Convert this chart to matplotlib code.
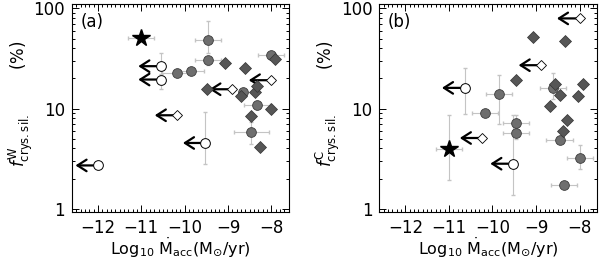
import numpy as np
import matplotlib.pyplot as plt
from matplotlib.ticker import MultipleLocator, LogLocator, NullFormatter, FixedLocator

# panel (a): warm component
w_circ_x = [-10.17, -9.85, -9.45, -9.45, -8.65, -8.46, -8.32, -8.0]
w_circ_y = [22.4, 23.6, 48.2, 30.4, 14.7, 5.85, 10.8, 34.1]
w_circ_ylo = [22.4, 23.6, 36.0, 27.0, 14.7, 4.4, 9.8, 34.1]
w_circ_yhi = [22.4, 23.6, 74.7, 33.0, 14.7, 7.4, 12.0, 34.1]
w_circ_xerr = [0.35, 0.3, 0.3, 0.3, 0.0, 0.4, 0.3, 0.3]

w_diam_x = [-9.07, -9.49, -8.6, -8.71, -8.38, -8.33, -8.0, -8.46, -8.27, -7.92]
w_diam_y = [28.8, 15.6, 25.7, 13.4, 14.7, 16.9, 10.0, 8.45, 4.14, 31.1]

w_ulc_x = [-10.55, -10.55, -9.52, -12.0]
w_ulc_y = [26.5, 19.5, 4.54, 2.71]
w_ulc_ylo = [21.5, 15.8, 2.82, 2.71]
w_ulc_yhi = [35.5, 22.0, 9.26, 2.71]

w_uld_x = [-10.17, -8.91, -8.0]
w_uld_y = [8.58, 15.6, 19.2]

w_star = (-11.0, 50.9, 0.3, 50.9, 50.9)

# panel (b): cold component
c_circ_x = [-10.18, -9.84, -9.46, -9.46, -8.62, -8.46, -8.35, -8.0]
c_circ_y = [9.05, 14.1, 7.2, 5.75, 16.1, 4.83, 1.74, 3.21]
c_circ_ylo = [9.05, 7.1, 6.6, 5.0, 12.5, 4.83, 1.74, 2.5]
c_circ_yhi = [9.05, 21.5, 8.6, 6.3, 22.4, 4.83, 1.74, 4.3]
c_circ_xerr = [0.3, 0.3, 0.3, 0.3, 0.3, 0.3, 0.3, 0.3]

c_diam_x = [-9.07, -8.34, -9.47, -8.56, -8.44, -8.68, -7.93, -8.03, -8.28, -8.39]
c_diam_y = [51.3, 47.1, 19.5, 17.8, 13.6, 10.6, 17.4, 13.4, 7.64, 5.93]

c_ulc_x = [-10.64, -9.53]
c_ulc_y = [16.1, 2.82]
c_ulc_ylo = [8.9, 1.36]
c_ulc_yhi = [25.5, 8.6]

c_uld_x = [-10.23, -8.88, -8.0]
c_uld_y = [5.09, 27.1, 79.4]

c_star = (-11.0, 3.95, 0.3, 1.92, 8.7)

ARROW = 0.52
ECOL = '#c4c4c4'


def panel(ax, cx, cy, cylo, cyhi, cxerr, dx, dy, ux, uy, uylo, uyhi,
          dlx, dly, star, tag, sup):
    cy = np.array(cy); ux = np.array(ux); uy = np.array(uy)
    # error bars
    ax.errorbar(cx, cy, xerr=cxerr,
                yerr=[cy - np.array(cylo), np.array(cyhi) - cy],
                fmt='none', ecolor=ECOL, elinewidth=0.8, capsize=1.5, zorder=1)
    ax.errorbar(ux, uy, yerr=[uy - np.array(uylo), np.array(uyhi) - uy],
                fmt='none', ecolor=ECOL, elinewidth=0.8, capsize=1.5, zorder=1)
    sx, sy, sxe, sylo, syhi = star
    ax.errorbar([sx], [sy], xerr=[sxe], yerr=[[sy - sylo], [syhi - sy]],
                fmt='none', ecolor=ECOL, elinewidth=0.8, capsize=1.5, zorder=1)

    # upper limit arrows
    for x, y in list(zip(ux, uy)) + list(zip(dlx, dly)):
        ax.annotate('', xy=(x - ARROW, y), xytext=(x, y),
                    arrowprops=dict(arrowstyle='->,head_length=0.5,head_width=0.32',
                                    lw=1.6, color='k', shrinkA=0, shrinkB=0,
                                    mutation_scale=13), zorder=2)

    ax.plot(cx, cy, 'o', ms=7, mfc='#6e6e6e', mec='#3c3c3c', mew=0.6, zorder=3)
    ax.plot(dx, dy, 'D', ms=6, mfc='#565656', mec='#333333', mew=0.5, zorder=3)
    ax.plot(ux, uy, 'o', ms=7, mfc='white', mec='k', mew=0.7, zorder=4)
    ax.plot(dlx, dly, 'D', ms=5.5, mfc='white', mec='k', mew=0.6, zorder=4)
    ax.plot([sx], [sy], '*', ms=13, color='k', zorder=5)

    ax.set_yscale('log')
    ax.set_xlim(-12.6, -7.6)
    ax.set_ylim(0.93, 110)
    ax.xaxis.set_major_locator(FixedLocator([-12, -11, -10, -9, -8]))
    ax.xaxis.set_minor_locator(MultipleLocator(0.1))
    ax.yaxis.set_major_locator(FixedLocator([1, 10, 100]))
    ax.yaxis.set_minor_locator(LogLocator(subs=np.arange(2, 10)))
    ax.yaxis.set_minor_formatter(NullFormatter())
    ax.set_yticklabels(['1', '10', '100'])
    ax.set_xticklabels(['\u221212', '\u221211', '\u221210', '\u22129', '\u22128'])
    ax.tick_params(which='both', direction='in', top=True, right=True,
                   labelsize=12, width=0.7)
    ax.tick_params(which='major', length=5, pad=5)
    ax.tick_params(which='minor', length=2)
    for s in ax.spines.values():
        s.set_linewidth(0.8)

    ax.set_xlabel(r'Log$_{10}$ $\dot{\rm M}_{\rm acc}$(M$_{\odot}$/yr)',
                  fontsize=11.5, labelpad=-1)
    ax.set_ylabel(r'$f^{\rm %s}_{\rm crys.sil.}$' % sup + '        (%)',
                  fontsize=12)
    ax.yaxis.set_label_coords(-0.17, 0.52)
    ax.text(0.04, 0.96, tag, transform=ax.transAxes, fontsize=12,
            ha='left', va='top')


fig = plt.figure(figsize=(6, 2.64), dpi=100)
ax1 = fig.add_axes([0.12, 0.197, 0.361, 0.787])
ax2 = fig.add_axes([0.632, 0.197, 0.363, 0.787])

panel(ax1, w_circ_x, w_circ_y, w_circ_ylo, w_circ_yhi, w_circ_xerr,
      w_diam_x, w_diam_y, w_ulc_x, w_ulc_y, w_ulc_ylo, w_ulc_yhi,
      w_uld_x, w_uld_y, w_star, '(a)', 'W')
panel(ax2, c_circ_x, c_circ_y, c_circ_ylo, c_circ_yhi, c_circ_xerr,
      c_diam_x, c_diam_y, c_ulc_x, c_ulc_y, c_ulc_ylo, c_ulc_yhi,
      c_uld_x, c_uld_y, c_star, '(b)', 'C')

fig.savefig('out.png', dpi=100)
